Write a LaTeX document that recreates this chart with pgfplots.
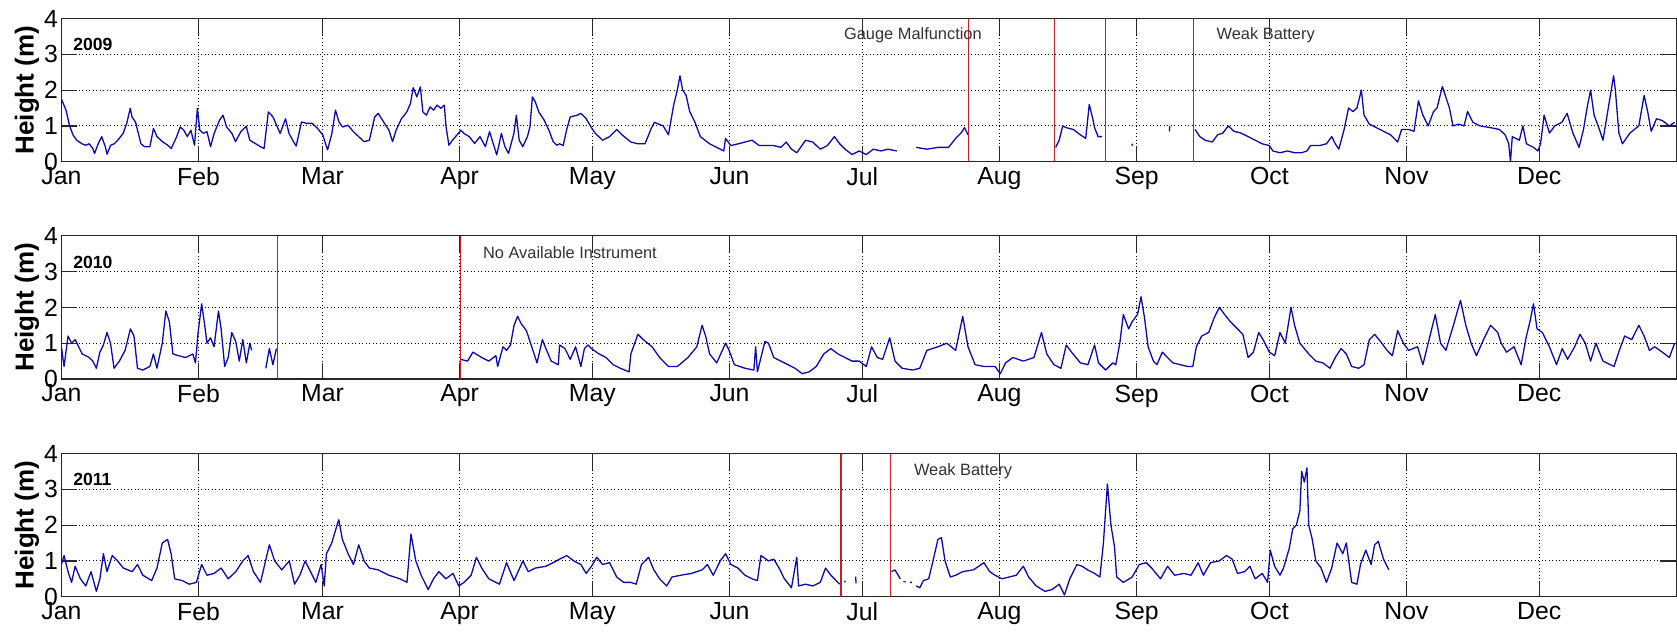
\documentclass[border=0pt]{standalone}
\usepackage{fontspec}
\setmainfont{Liberation Sans}
\usepackage{pgfplots}
\usepackage{pgfplotstable}
\pgfplotsset{compat=1.18}

\definecolor{wave}{RGB}{10,10,175}
\definecolor{gap}{RGB}{200,30,40}
\definecolor{note}{RGB}{50,50,50}

% significant wave height, day of year vs metres
\pgfplotstableread{
d h
0 1.75
1.05 1.44
1.85 1.0
2.66 0.74
3.47 0.6
4.68 0.5
5.48 0.46
6.29 0.5
7.1 0.37
7.5 0.23
8.31 0.5
9.11 0.7
9.92 0.42
10.32 0.21
11.13 0.46
11.94 0.5
12.74 0.6
13.95 0.79
14.76 1.07
15.56 1.49
15.97 1.25
16.77 1.1
17.98 0.5
18.79 0.42
20.0 0.42
20.81 0.93
21.61 0.7
22.82 0.56
24.03 0.46
24.84 0.37
26.05 0.7
26.85 0.97
27.66 0.88
28.47 0.7
29.27 0.88
30.08 0.46
30.73 1.49
31.29 0.88
32.1 0.79
32.9 0.84
33.71 0.42
34.52 0.79
35.73 1.16
36.53 1.3
37.34 0.97
38.55 0.79
39.35 0.56
40.56 0.84
41.77 0.99
42.58 0.6
43.79 0.51
45.0 0.42
45.81 0.37
46.77 1.39
47.82 1.25
48.63 1.02
49.44 0.79
50.65 1.2
51.45 0.79
52.26 0.6
53.06 0.44
54.27 1.11
55.48 1.07
56.69 1.07
57.9 0.93
59.11 0.74
59.68 0.51
60.16 0.33
61.13 0.79
61.94 1.44
62.74 1.11
63.55 0.97
64.76 1.02
65.97 0.84
67.18 0.7
68.39 0.56
69.6 0.6
70.81 1.25
71.61 1.35
72.82 1.11
74.03 0.88
74.84 0.56
75.65 0.88
76.85 1.2
78.06 1.39
78.87 1.62
79.52 2.07
80.32 1.81
81.13 2.09
81.69 1.39
82.5 1.3
83.31 1.53
84.11 1.44
84.92 1.58
85.73 1.49
86.53 1.58
86.94 0.97
87.58 0.46
88.39 0.6
89.35 0.74
90.32 0.88
90.97 0.79
92.18 0.7
93.39 0.51
94.6 0.7
95.81 0.42
96.77 0.84
97.58 0.51
98.39 0.19
99.44 0.79
100.24 0.42
101.05 0.23
102.26 0.79
102.82 1.3
103.47 0.6
104.27 0.42
105.32 0.7
105.89 0.97
106.45 1.81
107.1 1.67
107.9 1.39
109.11 1.16
110.32 0.84
111.13 0.56
111.94 0.46
112.6 0.5
113.4 0.45
114.2 0.9
115.0 1.25
116.6 1.3
117.4 1.35
118.6 1.2
119.8 0.95
120.6 0.8
122.3 0.6
123.9 0.7
125.5 0.9
126.7 0.75
128.7 0.55
130.3 0.5
131.9 0.5
133.2 0.9
134.0 1.1
136.0 1.0
137.2 0.75
138.4 1.6
139.2 2.0
139.8 2.4
140.4 2.0
141.2 1.85
142.0 1.4
143.2 1.1
144.4 0.7
146.5 0.5
148.1 0.4
149.7 0.3
150.1 0.65
151.3 0.45
153.0 0.5
154.5 0.55
156.1 0.6
157.7 0.45
161.0 0.45
162.6 0.4
163.8 0.55
165.0 0.35
166.2 0.25
168.2 0.6
169.8 0.55
171.5 0.35
173.1 0.45
174.7 0.7
175.9 0.5
177.1 0.35
178.7 0.2
180.3 0.3
181.9 0.2
183.5 0.35
185.2 0.3
186.8 0.35
188.8 0.3
189.0 nan
193.2 0.4
195.6 0.35
198.1 0.4
200.5 0.4
202.1 0.65
203.3 0.8
204.1 0.95
204.9 0.75
205.0 nan
224.7 0.4
225.5 0.6
226.3 1.0
227.1 0.95
228.7 0.9
230.3 0.75
231.5 0.65
232.3 1.6
233.1 1.2
233.5 0.95
234.3 0.7
235.2 0.7
235.5 nan
241.9 0.45
242.1 0.5
242.2 nan
250.4 0.85
250.5 1.0
250.6 nan
256.2 0.9
257.3 0.7
258.5 0.6
260.1 0.55
261.3 0.75
262.5 0.8
263.7 1.0
265.0 0.85
266.6 0.8
268.2 0.7
269.8 0.6
271.4 0.5
273.0 0.45
273.8 0.3
275.4 0.25
277.1 0.3
278.7 0.25
280.3 0.25
281.5 0.3
282.3 0.45
284.3 0.45
285.9 0.5
287.1 0.7
287.9 0.5
288.7 0.35
289.9 0.9
290.9 1.5
291.9 1.4
292.8 1.5
293.8 2.0
294.4 1.3
295.6 1.05
297.2 0.95
298.8 0.85
300.4 0.75
302.0 0.55
302.9 0.9
304.5 0.9
305.7 0.85
306.7 1.7
307.7 1.3
308.9 1.0
310.1 1.4
310.9 1.5
312.1 2.1
312.9 1.8
313.7 1.5
314.5 1.0
315.8 1.05
317.0 1.0
317.8 1.4
319.0 1.1
320.6 1.0
323.0 0.95
325.0 0.9
326.3 0.75
327.1 0.5
327.5 0.0
327.9 0.7
329.5 0.6
330.3 1.0
331.1 0.5
332.7 0.4
333.7 0.3
334.3 0.5
335.1 1.3
336.3 0.8
337.5 1.0
339.1 1.1
340.3 1.35
341.6 0.8
343.0 0.4
344.0 0.9
344.8 1.5
345.6 2.0
346.4 1.3
347.6 0.9
348.4 0.6
349.6 1.5
350.8 2.4
351.2 2.0
352.0 0.8
352.8 0.5
354.5 0.8
356.5 1.0
357.7 1.85
358.5 1.4
359.3 0.85
360.5 1.2
361.8 1.15
363.4 1.0
364.6 1.1
}\hsA

\pgfplotstableread{
d h
0 0.9
0.6 0.35
1.5 1.2
2.3 1.0
3.1 1.1
3.9 0.9
4.7 0.7
5.5 0.65
6.3 0.6
7.1 0.5
7.9 0.3
8.7 0.75
9.5 0.95
10.3 1.3
11.1 1.0
11.9 0.3
13.1 0.5
14.4 0.8
15.6 1.4
16.4 1.2
17.2 0.3
18.4 0.25
20.0 0.35
20.8 0.7
21.6 0.3
22.8 1.0
23.6 1.9
24.4 1.6
25.2 0.7
26.5 0.65
28.1 0.6
29.7 0.7
30.3 0.45
30.9 1.3
31.7 2.1
32.5 1.4
32.9 1.0
33.7 1.15
34.5 0.9
35.5 1.9
36.1 1.4
36.9 0.35
37.7 0.6
38.5 1.3
39.4 1.05
40.2 0.5
41.0 1.1
41.8 0.45
42.6 1.0
43.0 0.8
43.1 nan
46.2 0.3
47.0 0.85
47.8 0.4
48.6 0.85
48.7 nan
90.2 0.55
91.8 0.5
93.0 0.75
95.0 0.6
96.6 0.5
98.2 0.65
98.6 0.35
99.8 0.9
100.6 0.8
101.5 0.95
102.3 1.5
103.1 1.75
103.9 1.55
105.1 1.35
106.3 0.9
107.5 0.45
108.7 1.1
109.5 0.85
110.7 0.5
112.3 0.4
112.6 0.95
113.8 0.85
115.0 0.55
116.2 0.9
117.4 0.35
118.2 0.85
119.0 0.95
119.8 0.85
121.5 0.7
123.1 0.6
124.7 0.4
126.3 0.3
128.3 0.2
128.7 0.7
130.3 1.25
131.5 1.1
133.5 0.9
135.2 0.6
137.2 0.35
139.2 0.35
141.6 0.6
143.6 0.9
144.8 1.5
145.6 1.2
146.5 0.7
148.1 0.45
150.1 1.0
150.9 0.8
152.1 0.4
154.5 0.3
156.5 0.25
156.9 0.9
157.3 0.2
159.0 1.05
159.8 1.0
161.0 0.6
162.6 0.5
164.2 0.4
165.8 0.3
167.4 0.15
169.0 0.2
170.6 0.35
172.3 0.7
173.9 0.85
175.5 0.7
177.1 0.6
178.7 0.5
180.3 0.5
181.9 0.35
183.1 0.9
184.4 0.6
185.6 0.55
187.2 1.15
188.4 0.5
190.0 0.3
192.4 0.25
194.0 0.3
195.6 0.8
198.1 0.9
200.1 1.0
202.1 0.8
203.7 1.75
204.9 0.9
206.5 0.4
208.5 0.35
211.0 0.35
212.2 0.15
213.4 0.45
215.0 0.6
217.4 0.5
219.8 0.6
221.5 1.3
222.7 0.7
224.3 0.4
225.9 0.3
227.1 0.95
228.3 0.75
230.3 0.45
232.0 0.4
233.5 0.95
234.4 0.45
236.0 0.25
237.6 0.45
238.3 0.4
239.2 1.0
240.0 1.8
241.2 1.4
242.0 1.6
243.2 1.8
244.0 2.3
244.8 1.7
245.6 0.9
246.8 0.5
247.6 0.4
248.8 0.75
250.0 0.6
251.2 0.45
252.9 0.4
254.5 0.35
255.7 0.35
256.5 0.9
257.7 1.2
259.3 1.3
260.5 1.7
261.7 2.0
262.9 1.8
264.2 1.6
265.8 1.4
267.0 1.25
268.2 0.6
269.4 0.75
270.6 1.3
271.8 1.05
273.0 0.75
274.2 0.65
275.4 1.3
276.6 1.0
277.9 2.0
278.7 1.5
279.9 1.0
281.9 0.7
283.5 0.5
285.1 0.45
286.7 0.3
287.9 0.6
289.2 0.85
290.4 0.7
291.6 0.35
293.2 0.3
294.4 0.4
295.6 1.1
296.8 1.25
298.4 1.0
299.6 0.8
300.8 0.65
302.0 1.35
303.3 1.0
304.5 0.8
306.5 0.9
307.7 0.4
308.9 1.0
310.5 1.8
311.7 1.0
312.9 0.8
314.6 1.5
316.2 2.2
317.4 1.5
318.6 1.0
319.8 0.65
321.4 1.1
323.0 1.5
324.6 1.3
325.4 1.0
326.6 0.75
328.3 0.9
329.9 0.4
331.1 1.2
331.9 1.6
332.7 2.1
333.5 1.4
334.7 1.3
336.3 0.9
337.9 0.4
339.2 0.85
340.4 0.55
342.0 0.9
343.2 1.25
344.4 1.0
345.6 0.5
346.8 1.0
348.4 0.5
350.9 0.35
352.1 0.8
353.3 1.2
354.9 1.1
356.5 1.5
357.7 1.2
358.9 0.8
360.1 0.9
361.8 0.75
363.4 0.6
364.6 1.0
}\hsB

\pgfplotstableread{
d h
0 0.9
0.6 1.15
1.5 0.7
2.3 0.4
3.1 0.85
4.3 0.5
5.5 0.3
6.7 0.7
7.9 0.15
8.7 0.5
9.5 1.2
10.3 0.7
11.5 1.15
12.7 1.0
14.0 0.8
16.0 0.7
17.2 0.9
18.4 0.6
20.4 0.45
21.6 0.8
22.8 1.5
24.0 1.6
24.8 1.2
25.6 0.5
27.3 0.45
28.9 0.35
30.5 0.4
31.7 0.9
32.9 0.6
34.5 0.65
36.1 0.8
37.7 0.5
39.4 0.7
41.0 1.0
42.2 1.15
43.4 0.7
45.0 0.4
47.0 1.45
48.2 1.0
49.8 0.75
51.5 1.0
52.7 0.35
53.9 0.6
55.1 1.0
56.3 0.7
57.5 0.4
58.7 0.9
59.4 0.3
59.9 1.2
61.1 1.5
62.3 2.0
62.7 2.15
63.5 1.6
64.8 1.2
66.0 0.9
67.2 1.45
68.4 1.0
69.6 0.8
71.6 0.75
74.0 0.6
76.5 0.5
78.1 0.4
79.0 1.75
80.1 1.0
81.3 0.6
82.9 0.2
84.1 0.5
85.3 0.7
86.9 0.5
88.5 0.65
89.8 0.3
91.0 0.4
92.6 0.6
93.8 1.1
95.0 0.8
96.6 0.5
99.0 0.35
100.6 0.95
102.3 0.45
104.3 1.0
105.5 0.7
107.1 0.8
109.5 0.85
111.9 1.0
112.6 1.05
114.2 1.15
115.8 1.0
117.4 0.9
118.6 0.65
119.8 0.85
121.0 1.1
122.3 0.9
123.9 0.95
125.5 0.55
127.1 0.4
128.7 0.4
129.9 0.35
131.1 0.9
132.7 1.1
133.9 0.75
135.2 0.5
136.8 0.3
138.0 0.55
140.0 0.6
142.4 0.65
144.8 0.75
146.0 0.9
147.3 0.6
148.9 1.0
150.1 1.2
151.3 0.9
152.9 0.8
154.5 0.6
156.1 0.5
157.3 0.45
158.1 1.15
159.8 1.0
161.0 1.05
162.2 0.8
163.4 0.5
165.0 0.25
166.2 1.1
166.6 0.3
168.2 0.35
169.8 0.3
171.5 0.4
172.7 0.8
173.9 0.6
175.1 0.45
175.9 0.35
176.0 nan
177.0 0.45
177.2 0.4
177.3 nan
179.5 0.56
179.6 0.37
179.7 nan
187.6 0.7
188.4 0.75
189.6 0.5
189.7 nan
190.3 0.42
190.8 0.42
190.9 nan
191.8 0.4
192.2 0.4
192.3 nan
193.2 0.3
194.0 0.25
194.8 0.45
196.0 0.5
196.8 0.9
198.1 1.6
198.9 1.65
199.7 1.0
200.9 0.55
202.1 0.6
203.7 0.7
206.1 0.75
207.3 0.85
208.5 0.95
209.8 0.7
211.0 0.6
212.6 0.5
214.2 0.55
215.8 0.6
217.4 0.85
218.6 0.55
220.3 0.3
222.3 0.15
223.9 0.2
225.5 0.35
226.7 0.05
227.9 0.5
229.5 0.9
230.7 0.85
231.9 0.75
233.5 0.65
234.7 0.55
235.5 1.5
236.4 3.15
237.2 2.0
238.0 1.4
238.5 0.55
240.0 0.4
242.0 0.55
243.6 0.9
245.2 0.95
246.4 0.8
248.4 0.5
250.0 0.85
251.6 0.6
253.7 0.65
255.3 0.6
256.9 0.95
258.1 0.6
259.7 0.95
261.7 1.0
263.3 1.15
264.6 1.05
265.8 0.65
267.4 0.7
268.6 0.85
269.8 0.5
271.4 0.65
272.6 0.4
273.2 1.3
274.2 0.85
275.4 0.6
276.2 0.8
277.5 1.35
278.3 1.9
279.1 2.0
279.9 2.4
280.3 3.5
280.9 3.2
281.5 3.6
281.9 2.0
282.7 1.6
283.5 1.0
284.7 0.8
285.9 0.4
287.1 0.8
288.3 1.5
289.6 1.2
290.4 1.5
291.6 0.4
292.8 0.35
293.6 0.9
294.8 1.3
296.0 0.9
296.8 1.45
297.6 1.55
298.8 1.05
300.0 0.75
}\hsC

\tikzset{
  note/.style={anchor=west, inner sep=0pt, text=note, font=\fontsize{8.2}{9}\selectfont},
  yr/.style={anchor=base west, inner sep=0pt, font=\bfseries\fontsize{8.8}{9}\selectfont},
}

\pgfplotsset{
  panel/.style={
    scale only axis,
    width=807.5pt, height=71.6pt,
    xmin=0, xmax=365, ymin=0, ymax=4,
    xtick={0,31,59,90,120,151,181,212,243,273,304,334},
    xticklabels={Jan,Feb,Mar,Apr,May,Jun,Jul,Aug,Sep,Oct,Nov,Dec},
    ytick={0,1,2,3,4},
    tick align=inside, xtick pos=both, ytick pos=both,
    major tick length=8pt,
    grid=major,
    grid style={black, line width=0.45pt, dash pattern=on 0.45pt off 1.3pt},
    axis line style={black!85, line width=0.6pt},
    tick style={black!85, line width=0.6pt},
    ticklabel style={font=\fontsize{12.4}{12.4}\selectfont},
    xticklabel style={yshift=0.6pt},
    yticklabel style={xshift=1.8pt},
    /pgf/number format/assume math mode=true,
    ylabel={Height (m)},
    ylabel style={font=\bfseries\fontsize{13}{13}\selectfont,
      at={([xshift=-13.9pt]axis description cs:0,0.5)}, anchor=base},
    unbounded coords=jump,
  },
  hs/.style={wave, line width=0.65pt, line join=round},
  cut/.style={gap, line width=0.55pt},
}

\begin{document}
\begin{tikzpicture}
\path[use as bounding box] (0,0) rectangle (838.5pt,-316pt);

% 2009
\begin{axis}[panel, at={(30.7pt,-80.85pt)}, anchor=south west]
  \addplot[hs] table[x=d, y=h] {\hsA};
  \addplot[cut] coordinates {(205.0,0) (205.0,4)};
  \addplot[cut] coordinates {(224.4,0) (224.4,4)};
  \addplot[cut] coordinates {(235.9,0) (235.9,4)};
  \addplot[cut] coordinates {(255.9,0) (255.9,4)};
  \node[yr] at (axis cs:2.6,3.1) {2009};
  \node[note] at (axis cs:176.8,3.53) {Gauge Malfunction};
  \node[note] at (axis cs:261.0,3.53) {Weak Battery};
\end{axis}

% 2010
\begin{axis}[panel, at={(30.7pt,-189.5pt)}, anchor=south west]
  \addplot[hs] table[x=d, y=h] {\hsB};
  \addplot[cut] coordinates {(48.8,0) (48.8,4)};
  \addplot[cut] coordinates {(90.1,0) (90.1,4)};
  \node[yr] at (axis cs:2.6,3.08) {2010};
  \node[note] at (axis cs:95.2,3.52) {No Available Instrument};
\end{axis}

% 2011
\begin{axis}[panel, at={(30.7pt,-298.35pt)}, anchor=south west]
  \addplot[hs] table[x=d, y=h] {\hsC};
  \addplot[cut] coordinates {(176.2,0) (176.2,4)};
  \addplot[cut] coordinates {(187.4,0) (187.4,4)};
  \node[yr] at (axis cs:2.6,3.12) {2011};
  \node[note] at (axis cs:192.6,3.5) {Weak Battery};
\end{axis}
\end{tikzpicture}
\end{document}
